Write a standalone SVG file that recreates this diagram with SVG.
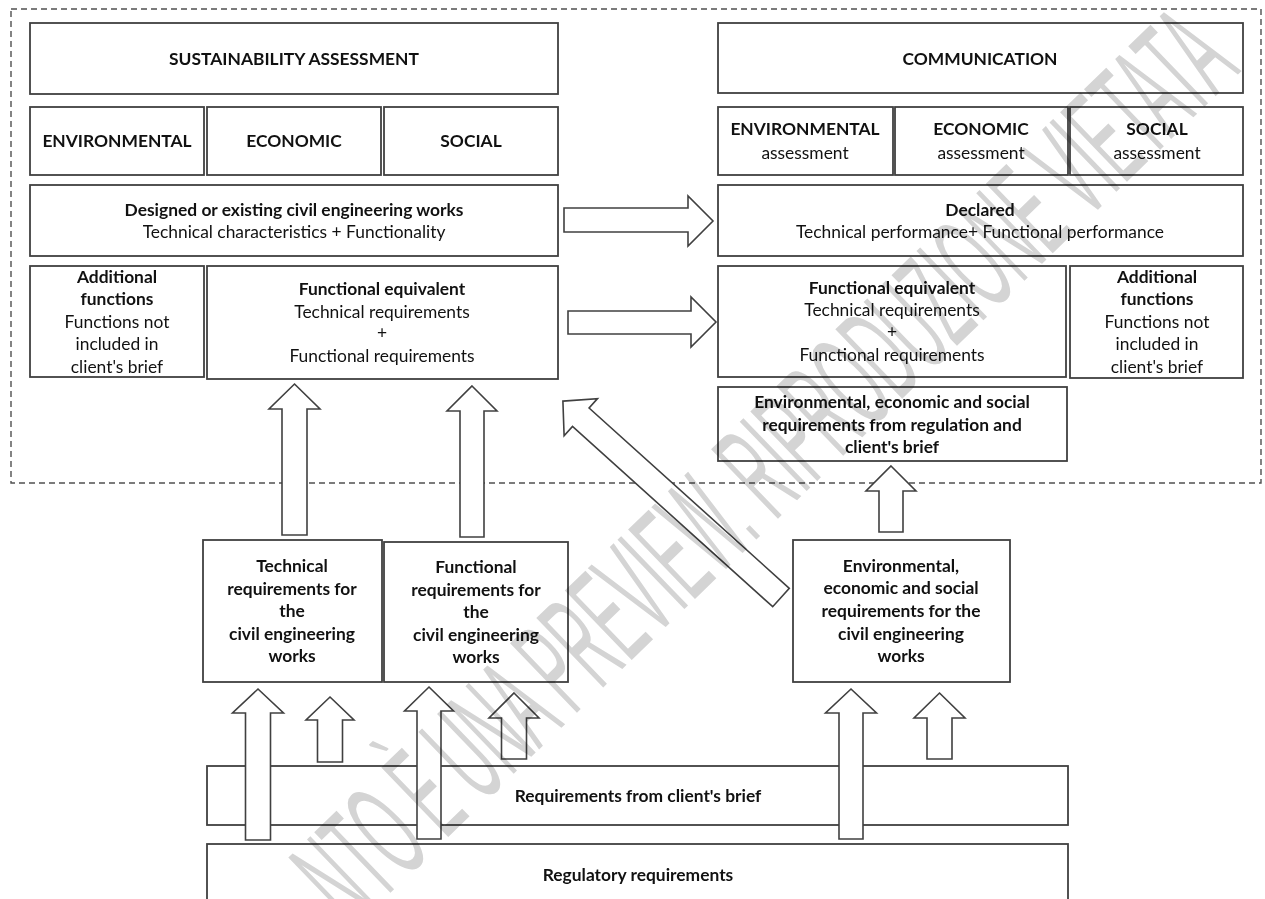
<svg xmlns="http://www.w3.org/2000/svg" width="1265" height="899" viewBox="0 0 1265 899">
<style>
  .box { fill: #ffffff; stroke: #404040; stroke-width: 1.8; }
  .arr { fill: #ffffff; stroke: #404040; stroke-width: 1.6; stroke-linejoin: miter; }
  .frame { fill: none; stroke: #505050; stroke-width: 1.4; stroke-dasharray: 6 4; }
  text { font-family: Lato, "Liberation Sans", sans-serif; font-size: 17.4px; fill: #111111; text-anchor: middle; }
  .b { font-weight: bold; }
  .wm { font-family: "Liberation Sans", Arial, sans-serif; font-size: 140px; fill: #d4d4d4; text-anchor: start; }
  #watermark { mix-blend-mode: multiply; }
</style>
<rect x="0" y="0" width="1265" height="899" fill="#ffffff"/>
<rect class="frame" x="11" y="9" width="1250" height="474"/>

<g id="sustainability-assessment"><rect class="box" x="30" y="23" width="528" height="71"/><text class="b" x="294" y="65">SUSTAINABILITY ASSESSMENT</text></g>
<g id="sa-environmental"><rect class="box" x="30" y="107" width="174" height="68"/><text class="b" x="117" y="147">ENVIRONMENTAL</text></g>
<g id="sa-economic"><rect class="box" x="207" y="107" width="174" height="68"/><text class="b" x="294" y="147">ECONOMIC</text></g>
<g id="sa-social"><rect class="box" x="384" y="107" width="174" height="68"/><text class="b" x="471" y="147">SOCIAL</text></g>
<g id="designed-works"><rect class="box" x="30" y="185" width="528" height="71"/><text class="b" x="294" y="216">Designed or existing civil engineering works</text><text x="294" y="238">Technical characteristics + Functionality</text></g>
<g id="additional-left"><rect class="box" x="30" y="266" width="174" height="111"/><text class="b" x="117" y="283">Additional</text><text class="b" x="117" y="305">functions</text><text x="117" y="328">Functions not</text><text x="117" y="350">included in</text><text x="117" y="373">client's brief</text></g>
<g id="functional-equivalent-left"><rect class="box" x="207" y="266" width="351" height="113"/><text class="b" x="382" y="295">Functional equivalent</text><text x="382" y="318">Technical requirements</text><text x="382" y="339">+</text><text x="382" y="362">Functional requirements</text></g>

<g id="communication"><rect class="box" x="718" y="23" width="525" height="70"/><text class="b" x="980" y="65">COMMUNICATION</text></g>
<g id="com-environmental"><rect class="box" x="718" y="107" width="175" height="68"/><text class="b" x="805" y="135">ENVIRONMENTAL</text><text x="805" y="159">assessment</text></g>
<g id="com-economic"><rect class="box" x="895" y="107" width="173" height="68"/><text class="b" x="981" y="135">ECONOMIC</text><text x="981" y="159">assessment</text></g>
<g id="com-social"><rect class="box" x="1070" y="107" width="173" height="68"/><text class="b" x="1157" y="135">SOCIAL</text><text x="1157" y="159">assessment</text></g>
<g id="declared"><rect class="box" x="718" y="185" width="525" height="71"/><text class="b" x="980" y="216">Declared</text><text x="980" y="238">Technical performance+ Functional performance</text></g>
<g id="functional-equivalent-right"><rect class="box" x="718" y="266" width="348" height="111"/><text class="b" x="892" y="294">Functional equivalent</text><text x="892" y="316">Technical requirements</text><text x="892" y="338">+</text><text x="892" y="361">Functional requirements</text></g>
<g id="additional-right"><rect class="box" x="1070" y="266" width="173" height="112"/><text class="b" x="1157" y="283">Additional</text><text class="b" x="1157" y="305">functions</text><text x="1157" y="328">Functions not</text><text x="1157" y="350">included in</text><text x="1157" y="373">client's brief</text></g>
<g id="env-requirements-regulation"><rect class="box" x="718" y="387" width="349" height="74"/><text class="b" x="892" y="408">Environmental, economic and social</text><text class="b" x="892" y="431">requirements from regulation and</text><text class="b" x="892" y="453">client's brief</text></g>

<g id="technical-requirements"><rect class="box" x="203" y="540" width="179" height="142"/><text class="b" x="292" y="572">Technical</text><text class="b" x="292" y="595">requirements for</text><text class="b" x="292" y="617">the</text><text class="b" x="292" y="640">civil engineering</text><text class="b" x="292" y="662">works</text></g>
<g id="functional-requirements"><rect class="box" x="384" y="542" width="184" height="140"/><text class="b" x="476" y="573">Functional</text><text class="b" x="476" y="596">requirements for</text><text class="b" x="476" y="618">the</text><text class="b" x="476" y="641">civil engineering</text><text class="b" x="476" y="663">works</text></g>
<g id="env-econ-social-requirements"><rect class="box" x="793" y="540" width="217" height="142"/><text class="b" x="901" y="572">Environmental,</text><text class="b" x="901" y="594">economic and social</text><text class="b" x="901" y="617">requirements for the</text><text class="b" x="901" y="640">civil engineering</text><text class="b" x="901" y="662">works</text></g>
<g id="client-brief"><rect class="box" x="207" y="766" width="861" height="59"/><text class="b" x="638" y="802">Requirements from client's brief</text></g>
<g id="regulatory"><rect class="box" x="207" y="844" width="861" height="70"/><text class="b" x="638" y="881">Regulatory requirements</text></g>

<g id="connectors">
  <polygon class="arr" points="564,208 688,208 688,196 713,221 688,246 688,232 564,232"/>
  <polygon class="arr" points="568,311 691,311 691,297 716,322 691,347 691,334 568,334"/>
  <polygon class="arr" points="294.5,384 320,409 307,409 307,535 282,535 282,409 269,409"/>
  <polygon class="arr" points="472,386 497,411 484,411 484,537 460,537 460,411 447,411"/>
  <polygon class="arr" points="891,466 916,491 903,491 903,532 879,532 879,491 866,491"/>
  <polygon class="arr" points="562.9,401.1 597.5,398.6 589.1,408 789.3,588.3 772.7,606.7 572.5,426.4 564.1,435.8"/>
  <polygon class="arr" points="258,689 283.5,713 270.5,713 270.5,840 245.5,840 245.5,713 232.5,713"/>
  <polygon class="arr" points="330,697 354,720 342.5,720 342.5,762 317.5,762 317.5,720 306,720"/>
  <polygon class="arr" points="429,687 453.5,711 441,711 441,839 417,839 417,711 404.5,711"/>
  <polygon class="arr" points="514,693 539,718 526.5,718 526.5,759 501.5,759 501.5,718 489,718"/>
  <polygon class="arr" points="851,689 876.5,713 863,713 863,839 839,839 839,713 825.5,713"/>
  <polygon class="arr" points="939.5,693 965,718 952,718 952,759 927,759 927,718 914,718"/>
</g>

<g id="watermark">
  <text class="wm" transform="translate(352,930) rotate(-44) scale(0.39,1)">NTO È UNA PREVIEW. RIPRODUZIONE VIETATA</text>
</g>
</svg>
